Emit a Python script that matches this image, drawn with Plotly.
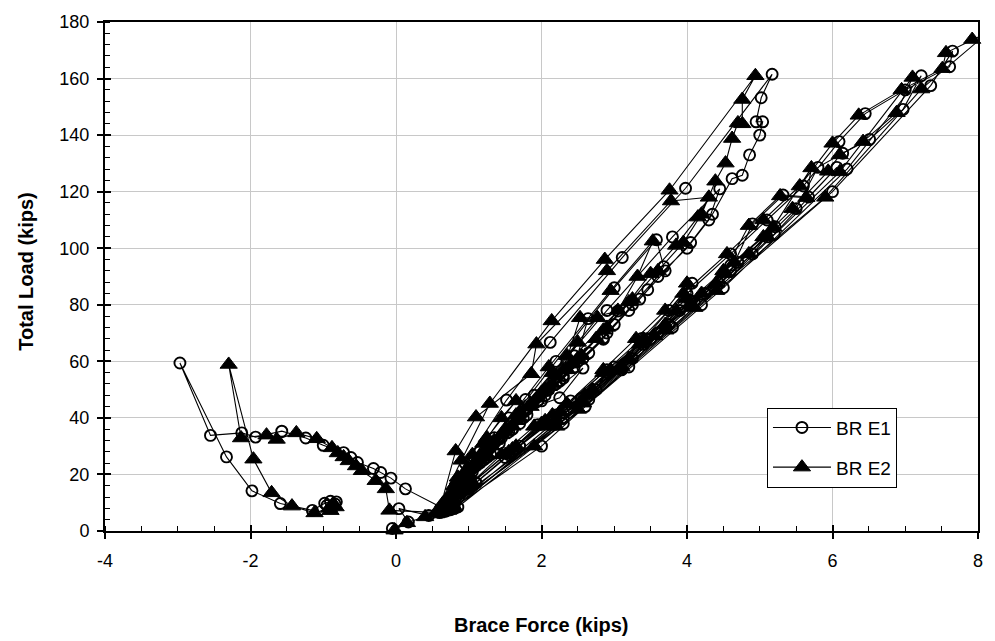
import plotly.graph_objects as go

# ---------------- data ----------------
# BR E1 (open circles)
e1_start_x = [-0.05, 0.17, 0.04, 0.45]
e1_start_y = [0.9, 3.2, 7.9, 5.5]

e1_steep_x = [0.72, 0.95, 1.15, 0.88, 0.60,
              0.78, 1.05, 1.30, 1.55, 1.78, 1.35, 0.95, 0.62,
              0.80, 1.10, 1.45, 1.80, 2.25, 2.57, 2.00, 1.42, 0.95, 0.64,
              0.82, 1.15, 1.55, 1.95, 2.30, 2.85, 2.30, 1.60, 1.00, 0.66,
              0.85, 1.20, 1.60, 2.05, 2.45, 2.64, 3.05, 2.45, 1.75, 1.05, 0.68,
              0.86, 1.25, 1.70, 2.10, 2.50, 2.85, 3.20, 3.46, 3.68, 3.58, 3.00, 2.20, 1.30, 0.70,
              0.88, 1.30, 1.75, 2.20, 2.57, 2.90, 3.25, 3.60, 4.00, 4.30, 4.45, 3.80, 2.90, 1.90, 1.00, 0.70,
              0.90, 1.35, 1.80, 2.25, 2.65, 3.00, 3.35, 3.70, 4.05, 4.35, 4.62, 4.76, 4.86, 5.00, 5.04, 4.95, 5.02, 5.17,
              3.98, 3.11, 2.12, 1.52, 0.95, 0.60]
e1_steep_y = [10, 19, 28, 17, 6.5,
              12, 22, 31, 40, 46.5, 33, 19, 7,
              13, 23, 33, 43, 47.1, 57.6, 46, 31, 17, 7,
              13, 24, 35, 46, 55, 67.8, 54, 36, 19, 7,
              14, 25, 36, 48, 58, 75.1, 77.8, 62, 42, 21, 7,
              14, 26, 38, 50, 60, 68.2, 78, 85.3, 93.5, 103, 86, 60, 30, 8,
              15, 27, 40, 52, 61, 70, 80, 90, 100, 110, 121, 104, 78, 48, 18, 8,
              15, 28, 41, 53, 63, 73, 82, 92, 102, 112, 124.6, 125.8, 133, 140, 144.7, 144.7, 153.2, 161.5,
              121.2, 96.7, 66.7, 46.3, 24, 7]

e1_shallow_x = [1.00, 1.50, 1.95, 2.40, 2.90, 3.38, 3.75, 4.07, 4.04, 3.20, 2.00, 0.75,
                1.05, 1.55, 2.05, 2.55, 3.00, 3.45, 3.90, 4.44, 4.90, 5.21, 4.60, 3.50, 2.30, 0.80,
                1.05, 1.60, 2.10, 2.65, 3.10, 3.60, 4.10, 4.60, 4.90, 5.32, 5.67, 6.06, 5.20, 3.80, 2.20, 0.80,
                1.10, 1.65, 2.20, 2.75, 3.25, 3.75, 4.25, 4.70, 5.10, 5.50, 5.80, 6.14, 6.51, 6.97, 7.22, 6.20, 4.50, 2.60, 0.85,
                1.10, 1.70, 2.30, 2.90, 3.40, 4.00, 4.60, 5.10, 5.60, 6.09, 6.45, 7.00, 7.61, 7.65, 7.35, 6.00, 4.20, 2.30, 0.70]
e1_shallow_y = [15, 26, 37.6, 46, 57, 68.1, 78, 87.6, 81.6, 58, 30, 7.5,
                16, 27, 38, 47, 58, 68, 78, 87.6, 98, 107.6, 94, 68, 40, 8,
                16, 28, 39, 46.5, 57, 70, 81, 92, 108.6, 118.8, 118.1, 128.6, 105, 72, 38, 8,
                17, 29, 41, 50, 61, 73, 84, 95, 104, 114, 128.6, 133.6, 138.5, 149.1, 161, 128, 86, 44, 8.5,
                17, 30, 42, 56, 66, 84, 98, 110, 122, 137.7, 147.6, 156, 164.2, 169.7, 157.5, 120, 80, 38, 7.3]

e1_neg_x = [0.13, -0.07, -0.21, -0.31, -0.53, -0.62, -0.72, -1.00, -1.24, -1.57, -1.93, -2.12, -2.55,
            -2.97, -2.33, -1.98, -1.59, -1.15, -0.98, -0.90, -0.84, -0.95, -0.82]
e1_neg_y = [14.9, 18.7, 20.7, 22.1, 24.2, 26.0, 27.7, 30.3, 32.9, 35.3, 33.2, 34.7, 33.8,
            59.4, 26.2, 14.2, 9.7, 7.3, 9.8, 10.5, 9.6, 9.0, 10.3]

# BR E2 (filled triangles)
e2_start_x = [-0.02, 0.15, 0.40]
e2_start_y = [0.3, 2.9, 5.0]

e2_steep_x = [0.65, 0.85, 1.05, 0.80, 0.55,
              0.70, 0.95, 1.20, 1.45, 1.65, 1.25, 0.85, 0.57,
              0.72, 1.00, 1.35, 1.70, 2.05, 2.35, 1.85, 1.30, 0.85, 0.58,
              0.75, 1.05, 1.45, 1.85, 2.20, 2.50, 2.15, 1.50, 0.95, 0.60,
              0.78, 1.10, 1.50, 1.95, 2.30, 2.53, 2.77, 2.35, 1.65, 1.00, 0.62,
              0.80, 1.15, 1.60, 2.00, 2.40, 2.75, 3.05, 3.32, 3.53, 2.95, 2.10, 1.20, 0.64,
              0.82, 1.20, 1.65, 2.10, 2.50, 2.85, 3.20, 3.50, 3.85, 4.15, 4.30, 3.78, 2.90, 1.93, 1.86, 1.10, 0.82, 0.60,
              0.85, 1.25, 1.70, 2.15, 2.55, 2.90, 3.25, 3.60, 3.95, 4.20, 4.39, 4.53, 4.62, 4.70, 4.76, 4.76, 4.94,
              3.76, 2.87, 2.14, 1.29, 0.90, 0.55]
e2_steep_y = [10, 19, 27, 16, 6,
              11, 21, 31, 40, 46, 33, 18, 6.5,
              12, 22, 32, 42, 50, 57, 44, 30, 16, 6.5,
              12, 23, 34, 45, 55, 66.7, 56, 36, 18, 7,
              13, 24, 35, 47, 57, 75.4, 75.4, 62, 41, 20, 7,
              13, 25, 37, 49, 59, 68, 78, 90, 102.5, 85, 58, 28, 7.5,
              14, 26, 39, 51, 61, 71, 81, 91, 101, 111, 118, 116.7, 92, 66.1, 55.6, 40.3, 28.3, 7.5,
              14, 27, 40, 52, 62, 72, 82, 92, 102, 112, 123.7, 130.1, 138.8, 144.3, 144, 152.6, 161,
              120.5, 96, 74.3, 45.1, 25, 6.5]

e2_shallow_x = [0.95, 1.45, 1.90, 2.35, 2.85, 3.30, 3.70, 4.00, 3.98, 3.10, 1.90, 0.70,
                1.00, 1.50, 2.00, 2.57, 2.95, 3.40, 3.85, 4.40, 4.85, 5.19, 4.50, 3.40, 2.20, 0.75,
                1.00, 1.55, 2.05, 2.60, 3.05, 3.55, 4.05, 4.50, 4.85, 5.28, 5.64, 5.71, 5.10, 3.70, 2.10, 0.75,
                1.05, 1.60, 2.15, 2.70, 3.20, 3.70, 4.20, 4.65, 5.05, 5.45, 5.94, 6.10, 6.42, 6.88, 7.10, 6.10, 4.40, 2.50, 0.80,
                1.05, 1.65, 2.25, 2.85, 3.35, 3.95, 4.55, 5.05, 5.55, 6.00, 6.36, 6.95, 7.51, 7.56, 7.92, 8.15,
                7.22, 5.90, 4.10, 2.20, 0.60]
e2_shallow_y = [15, 27, 37, 45, 57, 68, 78, 87.6, 82, 58, 30, 7.5,
                16, 27, 38, 45.2, 57, 68, 78, 87.6, 98, 107.4, 92, 67, 39, 8,
                16, 28, 39, 48, 57, 69, 80, 91, 108, 118.5, 117.9, 128.4, 104, 71, 37, 8,
                17, 29, 41, 50, 61, 73, 84, 95, 104, 114, 127.2, 133, 137.7, 147.9, 160.4, 127, 85, 43, 8.5,
                17, 30, 42, 56, 66, 84, 98, 110, 122, 137.1, 147, 156, 163.5, 169.1, 173.8, 176.5,
                156.3, 118, 79, 37, 6.5]

e2_neg_x = [-0.09, -0.14, -0.28, -0.47, -0.55, -0.65, -0.72, -0.80, -0.88, -1.09, -1.37, -1.64, -1.78, -2.13,
            -2.30, -1.96, -1.71, -1.43, -1.12, -0.92, -0.86, -0.90, -0.83]
e2_neg_y = [7.3, 14.9, 17.8, 21.3, 23.0, 24.8, 26.2, 27.6, 29.4, 32.6, 34.7, 32.4, 33.9, 32.9,
            58.9, 25.4, 13.5, 8.8, 6.4, 8.0, 9.5, 7.2, 8.5]

series_names = ["BR E1", "BR E2"]
x_ticks = [-4, -2, 0, 2, 4, 6, 8]
y_ticks = [0, 20, 40, 60, 80, 100, 120, 140, 160, 180]

# ---------------- assemble ----------------
e1_x = e1_start_x + e1_steep_x + e1_shallow_x + e1_neg_x
e1_y = e1_start_y + e1_steep_y + e1_shallow_y + e1_neg_y
e2_x = e2_start_x + e2_steep_x + e2_shallow_x + e2_neg_x
e2_y = e2_start_y + e2_steep_y + e2_shallow_y + e2_neg_y

x_min, x_max = x_ticks[0], x_ticks[-1]
y_min, y_max = y_ticks[0], y_ticks[-1]

# hide markers of points lying outside the plotting window
e1_sizes = [11 if (x_min <= v <= x_max) else 0 for v in e1_x]
e2_sizes = [15 if (x_min <= v <= x_max) else 0 for v in e2_x]

FONT = "Arial, Liberation Sans, Helvetica, sans-serif"

fig = go.Figure()
fig.add_trace(go.Scatter(
    x=e1_x, y=e1_y, mode="lines+markers", name=series_names[0],
    legendgroup="g1", cliponaxis=False,
    line=dict(color="#000000", width=1.1),
    marker=dict(symbol="circle-open", size=e1_sizes, color="#000000", opacity=1,
                line=dict(width=1.9, color="#000000")),
))
fig.add_trace(go.Scatter(
    x=e2_x, y=e2_y, mode="lines+markers", name=series_names[1],
    legendgroup="g2", cliponaxis=False,
    line=dict(color="#000000", width=1.1),
    marker=dict(symbol="triangle-up", size=e2_sizes, color="#000000", opacity=1,
                line=dict(width=1, color="#000000")),
))
# dummy trace for the overlay axes (inner halves of the major ticks)
fig.add_trace(go.Scatter(x=[None], y=[None], xaxis="x2", yaxis="y2",
                         showlegend=False, hoverinfo="skip"))

axis_common = dict(
    showgrid=True, gridcolor="#c8c8c8", gridwidth=1, zeroline=False,
    showline=True, linecolor="black", linewidth=2, mirror=True,
    ticks="outside", ticklen=6, tickwidth=1.5, tickcolor="black",
    tickfont=dict(family=FONT, size=18, color="black"),
)

fig.update_layout(
    width=995, height=641,
    margin=dict(l=105, r=13, t=16, b=110),
    paper_bgcolor="white", plot_bgcolor="white",
    showlegend=True,
    xaxis=dict(range=[x_min, x_max], tickvals=x_ticks, ticktext=[str(v) for v in x_ticks],
               ticklabelstandoff=6,
               minor=dict(dtick=0.5, tick0=x_min, ticks="inside", ticklen=5, tickwidth=1, tickcolor="black",
                          showgrid=False),
               **axis_common),
    yaxis=dict(range=[y_min, y_max], tickvals=y_ticks, ticktext=[str(v) for v in y_ticks],
               ticklabelstandoff=4,
               minor=dict(dtick=4, tick0=0, ticks="inside", ticklen=5, tickwidth=1, tickcolor="black",
                          showgrid=False),
               **axis_common),
    xaxis2=dict(range=[x_min, x_max], overlaying="x", anchor="y2", side="bottom",
                tickvals=x_ticks, ticks="inside", ticklen=6, tickwidth=1.5, tickcolor="black",
                showticklabels=False, showgrid=False, zeroline=False, showline=False),
    yaxis2=dict(range=[y_min, y_max], overlaying="y", anchor="x2", side="left",
                tickvals=y_ticks, ticks="inside", ticklen=6, tickwidth=1.5, tickcolor="black",
                showticklabels=False, showgrid=False, zeroline=False, showline=False),
    legend=dict(x=(770 - 105) / 877, y=(531 - 406) / 515.5, xanchor="left", yanchor="top",
                bgcolor="white", bordercolor="black", borderwidth=1,
                font=dict(family=FONT, size=19, color="black"),
                tracegroupgap=12, itemwidth=58),
    annotations=[
        dict(text="<b>Brace Force (kips)</b>", xref="paper", yref="paper", x=0.5, y=(531 - 626) / 515.5,
             xanchor="center", yanchor="middle", showarrow=False,
             font=dict(family=FONT, size=20, color="black")),
        dict(text="<b>Total Load (kips)</b>", xref="paper", yref="paper", x=(26 - 105) / 877, y=0.51,
             xanchor="center", yanchor="middle", textangle=-90, showarrow=False,
             font=dict(family=FONT, size=20, color="black")),
    ],
)

fig.write_html("out.html")
